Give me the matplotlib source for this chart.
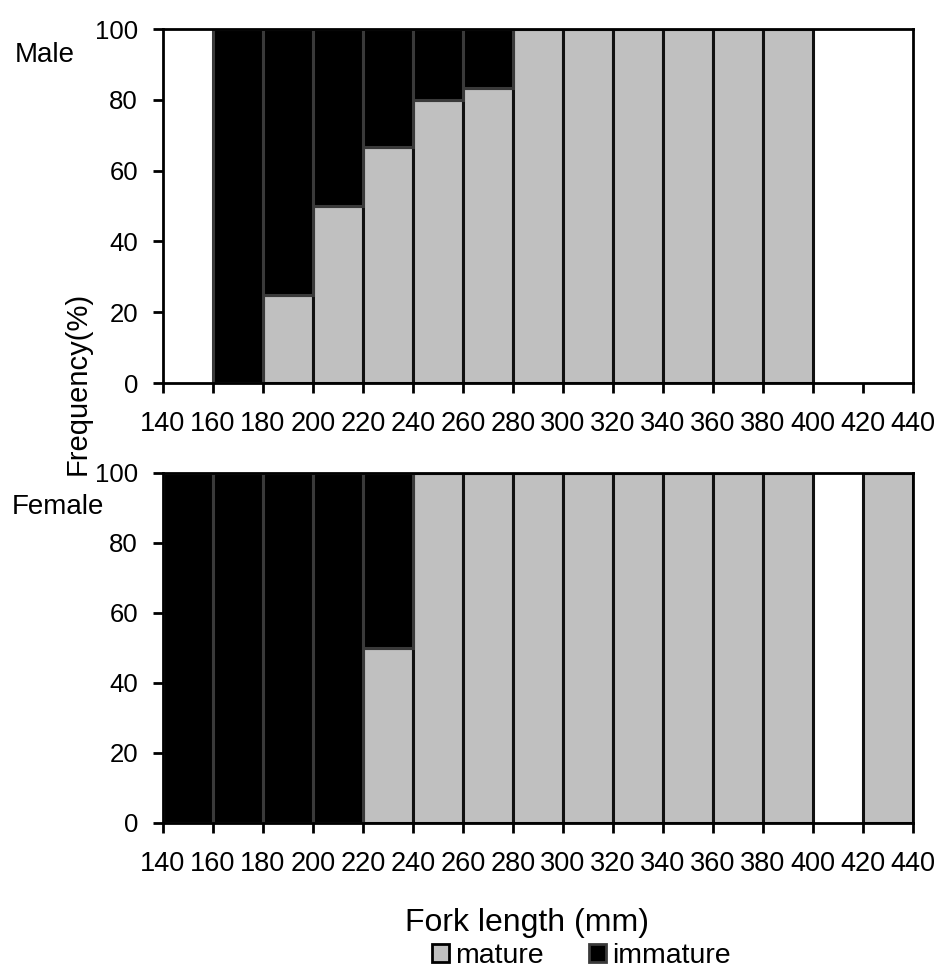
import numpy as np
import matplotlib
matplotlib.use("Agg")
import matplotlib.pyplot as plt
from matplotlib.patches import Patch

plt.rcParams['font.family'] = ['Liberation Sans', 'DejaVu Sans']

# bin left edges (fork length, mm)
bins = [140, 160, 180, 200, 220, 240, 260, 280, 300, 320, 340, 360, 380, 400, 420]
# % mature per bin, nan = no fish in that bin
male_mature = [np.nan, 0, 25, 50, 66.7, 80, 83.3, 100, 100, 100, 100, 100, 100, np.nan, np.nan]
female_mature = [0, 0, 0, 0, 50, 100, 100, 100, 100, 100, 100, 100, 100, np.nan, 100]
xticks = list(range(140, 441, 20))

fig = plt.figure(figsize=(9.41, 9.68), dpi=100)
ax1 = fig.add_axes([0.1732, 0.6043, 0.797, 0.3657])
ax2 = fig.add_axes([0.1732, 0.1498, 0.797, 0.3616])

grey = '#c0c0c0'
for ax, mat in [(ax1, male_mature), (ax2, female_mature)]:
    mat = np.array(mat, dtype=float)
    imm = 100 - mat
    ax.bar(bins, mat, width=20, align='edge', color=grey, edgecolor='#111111', linewidth=2.2)
    ax.bar(bins, imm, width=20, bottom=mat, align='edge', color='black', edgecolor='#3a3a3a', linewidth=2.2)
    ax.set_xlim(140, 440)
    ax.set_ylim(0, 100)
    ax.set_xticks(xticks)
    ax.set_yticks(range(0, 101, 20))
    ax.tick_params(direction='out', length=7, width=2)
    ax.tick_params(axis='x', pad=13, labelsize=19.5)
    ax.tick_params(axis='y', pad=11, labelsize=18.5)
    for s in ax.spines.values():
        s.set_linewidth(2)
    for lab in ax.get_xticklabels():
        lab.set_clip_on(False)

fig.text(0.083, 0.604, 'Frequency(%)', rotation=90, ha='center', va='center', fontsize=21)
fig.text(0.016, 0.943, 'Male', ha='left', va='center', fontsize=20)
fig.text(0.0128, 0.476, 'Female', ha='left', va='center', fontsize=20)
fig.text(0.560, 0.0465, 'Fork length (mm)', ha='center', va='center', fontsize=23)

handles = [Patch(facecolor=grey, edgecolor='black', linewidth=2),
           Patch(facecolor='black', edgecolor='#3a3a3a', linewidth=2)]
fig.legend(handles, ['mature', 'immature'], loc='center', bbox_to_anchor=(0.618, 0.0125),
           ncol=2, frameon=False, fontsize=20.5, handlelength=0.6, handleheight=0.6,
           handletextpad=0.2, columnspacing=1.6, borderpad=0)

fig.savefig('out.png', dpi=100)
